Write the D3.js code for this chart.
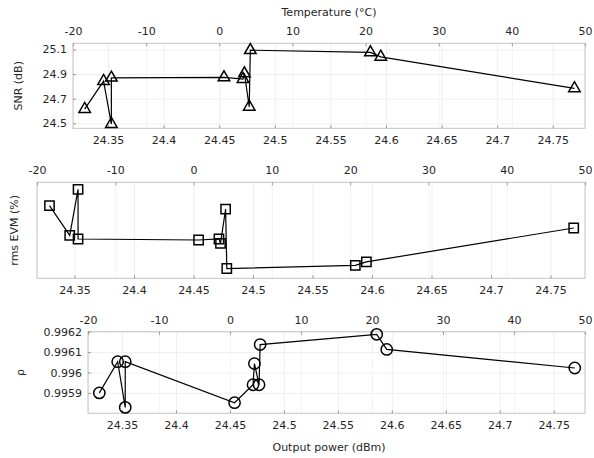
<!DOCTYPE html>
<html>
<head>
<meta charset="utf-8">
<script src="https://cdn.jsdelivr.net/npm/d3@7"></script>
<style>
  body { margin: 0; background: #fff; }
  text { font-family: "DejaVu Sans", sans-serif; fill: #262626; }
</style>
</head>
<body>
<div id="scene"></div>
<script>
// measured data, one entry per temperature step
var power = [24.329, 24.346, 24.353, 24.353, 24.4543, 24.4714, 24.4727, 24.477, 24.478, 24.586, 24.5953, 24.7695];
var snr = [24.616, 24.843, 24.494, 24.870, 24.873, 24.859, 24.905, 24.634, 25.094, 25.076, 25.040, 24.784];
var evm = [5.876, 5.727, 5.958, 5.709, 5.704, 5.709, 5.687, 5.859, 5.561, 5.577, 5.594, 5.764];
var rho = [0.995900, 0.996053, 0.995829, 0.996053, 0.995852, 0.995940, 0.996044, 0.995940, 0.996137, 0.996187, 0.996113, 0.996022];

var powerTicks = [24.35, 24.4, 24.45, 24.5, 24.55, 24.6, 24.65, 24.7, 24.75];
var tempTicks = [-20, -10, 0, 10, 20, 30, 40, 50];
var snrTicks = [24.5, 24.7, 24.9, 25.1];
var rhoTicks = [0.9959, 0.996, 0.9961, 0.9962];

var ctx = { w: 594, h: 458, right: 585 };

var panels = [
  { top: 43.3, bottom: 128.3, left: 73, values: snr, dom: [24.46, 25.15], ticks: snrTicks, label: "SNR (dB)", labelX: 18, marker: "triangle" },
  { top: 182.3, bottom: 278.3, left: 37, values: evm, dom: [5.512, 5.993], ticks: [], label: "rms EVM (%)", labelX: 14, marker: "square" },
  { top: 331.7, bottom: 413.3, left: 88, values: rho, dom: [0.9958, 0.9962], ticks: rhoTicks, label: "\u03C1", labelX: 20, marker: "circle" }
];

var svg = d3.select("#scene").append("svg")
  .attr("width", ctx.w)
  .attr("height", ctx.h);

var drawPanel = function (p, idx) {
  var x = d3.scaleLinear().domain([24.3185, 24.779]).range([p.left, ctx.right]);
  var t = d3.scaleLinear().domain([-20, 50]).range([p.left, ctx.right]);
  var y = d3.scaleLinear().domain(p.dom).range([p.bottom, p.top]);
  var h = p.bottom - p.top;
  var g = svg.append("g");

  // grid
  g.append("g").attr("transform", "translate(0," + p.bottom + ")")
    .call(d3.axisBottom(x).tickValues(powerTicks).tickSize(-h).tickFormat(""))
    .call(function (s) { s.select(".domain").remove(); s.selectAll("line").attr("stroke", "#efefef"); });
  g.append("g").attr("transform", "translate(0," + p.top + ")")
    .call(d3.axisTop(t).tickValues(tempTicks).tickSize(-h).tickFormat(""))
    .call(function (s) { s.select(".domain").remove(); s.selectAll("line").attr("stroke", "#f3f3f3"); });
  if (p.ticks.length) {
    g.append("g").attr("transform", "translate(" + p.left + ",0)")
      .call(d3.axisLeft(y).tickValues(p.ticks).tickSize(-(ctx.right - p.left)).tickFormat(""))
      .call(function (s) { s.select(".domain").remove(); s.selectAll("line").attr("stroke", "#efefef"); });
  }

  // box
  g.append("rect")
    .attr("x", p.left).attr("y", p.top)
    .attr("width", ctx.right - p.left).attr("height", h)
    .attr("fill", "none").attr("stroke", "#c4c4c4");

  // axes with inward ticks
  var bottomAx = g.append("g").attr("transform", "translate(0," + p.bottom + ")")
    .call(d3.axisBottom(x).tickValues(powerTicks).tickSize(-3).tickPadding(8).tickFormat(function (d) { return String(d); }));
  var topAx = g.append("g").attr("transform", "translate(0," + p.top + ")")
    .call(d3.axisTop(t).tickValues(tempTicks).tickSize(-3).tickPadding(8).tickFormat(function (d) { return String(d); }));
  [bottomAx, topAx].forEach(function (a) {
    a.select(".domain").remove();
    a.selectAll("line").attr("stroke", "#999");
    a.selectAll("text").attr("font-size", 11).attr("fill", "#262626");
  });
  if (p.ticks.length) {
    var leftAx = g.append("g").attr("transform", "translate(" + p.left + ",0)")
      .call(d3.axisLeft(y).tickValues(p.ticks).tickSize(-3).tickPadding(6).tickFormat(function (d) { return String(d); }));
    leftAx.select(".domain").remove();
    leftAx.selectAll("line").attr("stroke", "#999");
    leftAx.selectAll("text").attr("font-size", 11).attr("fill", "#262626");
  }

  // y label
  g.append("text")
    .attr("transform", "translate(" + p.labelX + "," + ((p.top + p.bottom) / 2) + ") rotate(-90)")
    .attr("text-anchor", "middle")
    .attr("dy", "0.35em")
    .attr("font-size", 11)
    .text(p.label);

  // line
  var line = d3.line()
    .x(function (d, i) { return x(power[i]); })
    .y(function (d) { return y(d); });
  g.append("path")
    .datum(p.values)
    .attr("d", line)
    .attr("fill", "none")
    .attr("stroke", "#000")
    .attr("stroke-width", 1.2);

  // markers
  var symType = p.marker === "triangle" ? d3.symbolTriangle2 : (p.marker === "square" ? d3.symbolSquare2 : d3.symbolCircle);
  var symSize = p.marker === "triangle" ? 95 : (p.marker === "square" ? 110 : 100);
  g.selectAll(".mark")
    .data(p.values)
    .enter()
    .append("path")
    .attr("class", "mark")
    .attr("transform", function (d, i) { return "translate(" + x(power[i]) + "," + y(d) + ")"; })
    .attr("d", d3.symbol().type(symType).size(symSize))
    .attr("fill", "none")
    .attr("stroke", "#000")
    .attr("stroke-width", 1.5);
};

panels.forEach(drawPanel);

svg.append("text")
  .attr("x", 329).attr("y", 16)
  .attr("text-anchor", "middle")
  .attr("font-size", 11)
  .text("Temperature (\u00B0C)");

svg.append("text")
  .attr("x", 329).attr("y", 451)
  .attr("text-anchor", "middle")
  .attr("font-size", 11)
  .text("Output power (dBm)");
</script>
</body>
</html>
